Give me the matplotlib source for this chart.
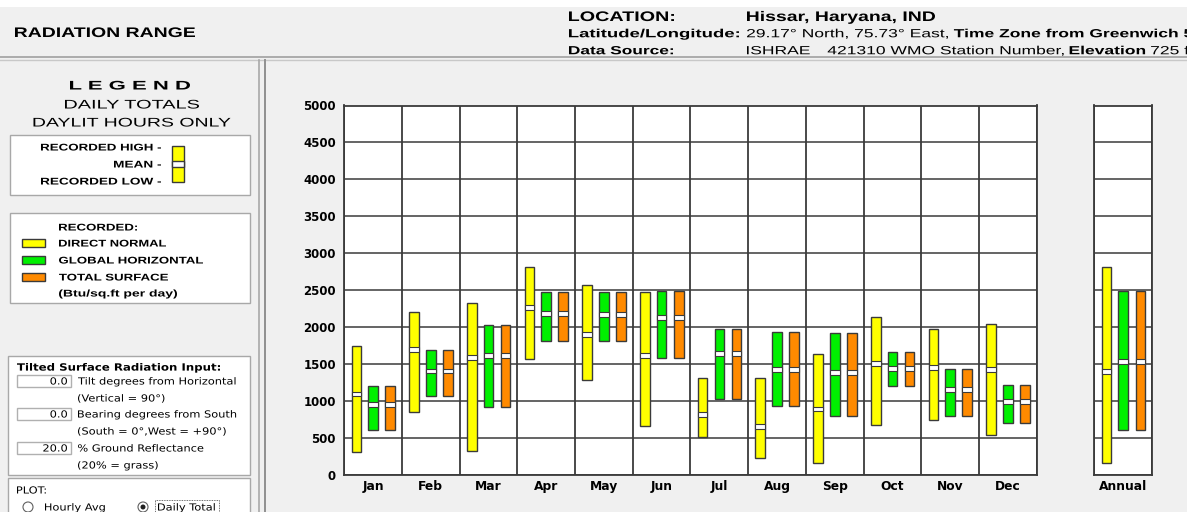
#!/usr/bin/env python3

import matplotlib as mpl
mpl.use('Agg')
import matplotlib.pyplot as plt
from matplotlib.patches import Rectangle, Circle, PathPatch
from matplotlib.textpath import TextPath
from matplotlib.font_manager import FontProperties
from matplotlib.transforms import Affine2D

## data (Btu/sq.ft per day) ##
months = ['Jan', 'Feb', 'Mar', 'Apr', 'May', 'Jun', 'Jul', 'Aug', 'Sep', 'Oct', 'Nov', 'Dec']

dn_high = [1743, 2212, 2325, 2816, 2572, 2478, 1315, 1311, 1635, 2135, 1978, 2050]
dn_mean = [1095, 1703, 1595, 2262, 1897, 1613,  824,  658,  892, 1514, 1460, 1424]
dn_low  = [ 315,  847,  324, 1572, 1284,  662,  509,  225,  158,  671,  748,  536]

gh_high = [1198, 1689, 2032, 2478, 2478, 2491, 1969, 1937, 1924, 1671, 1433, 1212]
gh_mean = [ 955, 1406, 1617, 2185, 2171, 2131, 1640, 1428, 1383, 1437, 1158,  991]
gh_low  = [ 613, 1072,  915, 1820, 1807, 1586, 1027,  928,  793, 1203,  802,  703]

ts_high = [1198, 1689, 2032, 2478, 2478, 2491, 1969, 1937, 1924, 1671, 1433, 1212]
ts_mean = [ 955, 1406, 1617, 2185, 2171, 2131, 1640, 1428, 1383, 1437, 1158,  991]
ts_low  = [ 613, 1072,  915, 1820, 1807, 1586, 1027,  928,  793, 1203,  802,  703]

annual_high = [2816, 2496, 2496]
annual_mean = [1401, 1536, 1536]
annual_low  = [ 158,  613,  613]

yticks = [0, 500, 1000, 1500, 2000, 2500, 3000, 3500, 4000, 4500, 5000]

YELLOW = '#FFFF00'
GREEN = '#00F000'
ORANGE = '#FF8A00'
EDGE = '#3a3a3a'
GRID = '#3a3a3a'
BG = '#F0F0F0'

W, H = 1187, 512
fig = plt.figure(figsize=(W / 100, H / 100), dpi=100, facecolor=BG)

# overlay in pixel coords for the window chrome
bg = fig.add_axes([0, 0, 1, 1], zorder=0)
bg.set_xlim(0, W)
bg.set_ylim(H, 0)
bg.axis('off')

def box(x0, y0, x1, y1, fc='white', ec='#A8A8A8', lw=1.0):
    bg.add_patch(Rectangle((x0, y0), x1 - x0, y1 - y0, facecolor=fc, edgecolor=ec, lw=lw))

# the screenshot is stretched sideways, so text is drawn as a path scaled in x
def stext(x, y, s, size, bold=False, width=None, sx=1.0, ha='left', family='Liberation Sans'):
    fp = FontProperties(family=family, weight='bold' if bold else 'normal')
    tp = TextPath((0, 0), s, size=size, prop=fp)
    k = 100 / 72.0
    ext = tp.get_extents()
    w = ext.width * k
    if width:
        sx = width / w
    if ha == 'right':
        left = x - w * sx
    elif ha == 'center':
        left = x - w * sx / 2
    else:
        left = x
    cap = 0.72 * size * k
    tr = Affine2D().scale(k * sx, -k).translate(left - ext.x0 * k * sx, y + cap / 2) + bg.transData
    bg.add_patch(PathPatch(tp, transform=tr, facecolor='black', edgecolor='none', lw=0))
    return left + w * sx

# header
bg.add_patch(Rectangle((0, 0), W, 7, facecolor='white', edgecolor='none'))
bg.plot([0, W], [57, 57], color='#A0A0A0', lw=1.2)
bg.plot([0, W], [60, 60], color='#C8C8C8', lw=1.0)
bg.plot([259, 259], [60, H], color='#A8A8A8', lw=1.2)
bg.plot([265, 265], [60, H], color='#909090', lw=1.4)

HS = 1.48   # header stretch
stext(15, 32, 'RADIATION RANGE', 10, bold=True, width=180)
stext(569, 16, 'LOCATION:', 10, bold=True, width=105)
stext(747, 16, 'Hissar, Haryana, IND', 10, bold=True, width=188)
stext(569, 33, 'Latitude/Longitude:', 8.5, bold=True, width=170)
r = stext(747, 33, '29.17\u00b0 North, 75.73\u00b0 East,', 8.5, sx=HS)
stext(r + 6, 33, 'Time Zone from Greenwich 5', 8.5, bold=True, sx=HS)
stext(569, 50, 'Data Source:', 8.5, bold=True, width=104)
r = stext(747, 50, 'ISHRAE', 8.5, sx=HS)
r = stext(r + 18, 50, '421310 WMO Station Number,', 8.5, sx=HS)
r = stext(r + 6, 50, 'Elevation', 8.5, bold=True, sx=HS)
stext(r + 6, 50, '725 ft', 8.5, sx=HS)

# left legend panel
stext(130, 85, 'L E G E N D', 9, bold=True, width=120, ha='center')
stext(132, 104, 'DAILY TOTALS', 9, width=134, ha='center')
stext(132, 122, 'DAYLIT HOURS ONLY', 9, width=197, ha='center')

box(10, 135, 250, 195)
stext(161, 147, 'RECORDED HIGH -', 7, bold=True, width=120, ha='right')
stext(161, 164, 'MEAN -', 7, bold=True, width=47, ha='right')
stext(161, 181, 'RECORDED LOW -', 7, bold=True, width=120, ha='right')
box(172, 146, 184, 182, fc=YELLOW, ec=EDGE)
box(172, 161, 184, 167, fc='white', ec=EDGE)

box(10, 213, 250, 303)
stext(59, 227, 'RECORDED:', 7, bold=True, width=78)
for yy, col, lab, wd in [(243, YELLOW, 'DIRECT NORMAL', 107), (260, GREEN, 'GLOBAL HORIZONTAL', 144),
                         (277, ORANGE, 'TOTAL SURFACE', 109)]:
    box(22, yy - 4, 45, yy + 4, fc=col, ec=EDGE)
    stext(59, yy, lab, 7, bold=True, width=wd)
stext(59, 293, '(Btu/sq.ft per day)', 7, bold=True, width=118)

TS = 1.17   # stretch for the input panel text
box(8, 356, 250, 475)
stext(17, 367, 'Tilted Surface Radiation Input:', 7.2, bold=True, width=203, family='DejaVu Sans')
inputs = [(381, '0.0', 'Tilt degrees from Horizontal', '(Vertical = 90\u00b0)'),
          (414, '0.0', 'Bearing degrees from South', '(South = 0\u00b0,West = +90\u00b0)'),
          (448, '20.0', '% Ground Reflectance', '(20% = grass)')]
for yy, val, lab, sub in inputs:
    box(17, yy - 6, 71, yy + 6, ec='#B0B0B0')
    stext(67, yy, val, 7, ha='right', family='DejaVu Sans', sx=TS)
    stext(78, yy, lab, 7, family='DejaVu Sans', sx=TS)
    stext(78, yy + 17, sub, 7, family='DejaVu Sans', sx=TS)

box(8, 478, 250, 520)
stext(17, 490, 'PLOT:', 7, family='DejaVu Sans', sx=TS)
bg.add_patch(Circle((28, 507), 5, facecolor='white', edgecolor='#606060', lw=0.8))
stext(45, 507, 'Hourly Avg', 7, family='DejaVu Sans', sx=TS)
bg.add_patch(Circle((143, 507), 5, facecolor='white', edgecolor='#606060', lw=0.8))
bg.add_patch(Circle((143, 507), 2.5, facecolor='#202020', edgecolor='none'))
stext(158, 507, 'Daily Total', 7, family='DejaVu Sans', sx=TS)
bg.add_patch(Rectangle((155, 500), 64, 14, facecolor='none', edgecolor='#404040',
                       lw=0.6, linestyle=(0, (1, 1))))

## chart axes ##
ax = fig.add_axes([344.3 / W, (H - 475) / H, 692.4 / W, 369.5 / H], zorder=1)
ax2 = fig.add_axes([1094.3 / W, (H - 475) / H, 58 / W, 369.5 / H], zorder=1)

offsets = [0.21, 0.50, 0.795]
bw = 0.168
mk = 65

def draw_group(a, x, highs, means, lows):
    cols = [YELLOW, GREEN, ORANGE]
    for k in range(3):
        xx = x + offsets[k]
        a.bar(xx, highs[k] - lows[k], bw, bottom=lows[k], color=cols[k],
              edgecolor=EDGE, lw=1.0, zorder=3)
        a.bar(xx, mk, bw, bottom=means[k] - mk / 2, color='white',
              edgecolor=EDGE, lw=0.8, zorder=4)

for i in range(len(months)):
    draw_group(ax, i, [dn_high[i], gh_high[i], ts_high[i]],
               [dn_mean[i], gh_mean[i], ts_mean[i]],
               [dn_low[i], gh_low[i], ts_low[i]])
draw_group(ax2, 0, annual_high, annual_mean, annual_low)

for a, n, labels in [(ax, 12, months), (ax2, 1, ['Annual'])]:
    a.set_facecolor('white')
    a.set_xlim(0, n)
    a.set_ylim(0, 5000)
    a.set_yticks(yticks)
    a.set_xticks([i + 0.5 for i in range(n)])
    a.set_xticklabels(labels, fontsize=8.8, fontweight='bold', family='DejaVu Sans')
    a.set_xticks(range(n + 1), minor=True)
    a.tick_params(which='both', length=0)
    a.tick_params(axis='x', pad=3.5)
    a.grid(True, which='major', axis='y', color=GRID, lw=1.1)
    a.grid(True, which='minor', axis='x', color=GRID, lw=1.3)
    a.set_axisbelow(True)
    for s in a.spines.values():
        s.set_color(GRID)
        s.set_linewidth(1.3)

ax.set_yticklabels([str(v) for v in yticks], fontsize=8.5, fontweight='bold', family='DejaVu Sans')
ax.tick_params(axis='y', pad=6)
ax2.set_yticklabels([])

plt.savefig('out.png', dpi=100, facecolor=BG)
